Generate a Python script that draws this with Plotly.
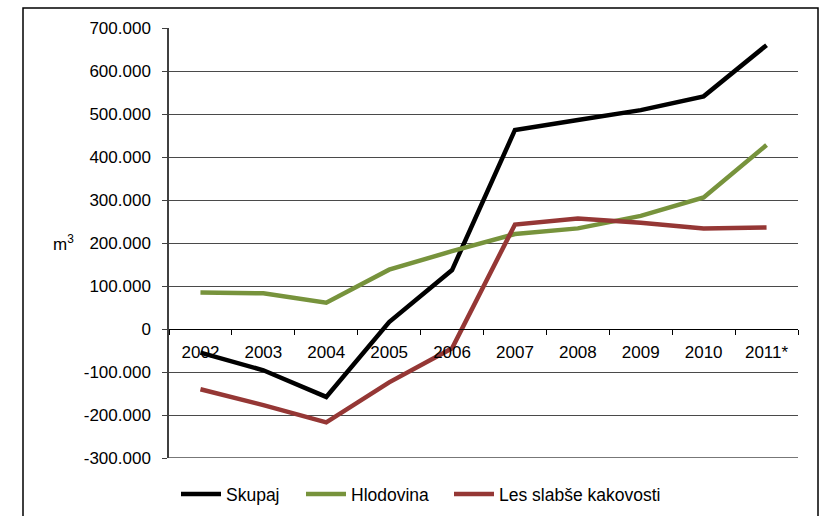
import plotly.graph_objects as go

years = ["2002", "2003", "2004", "2005", "2006", "2007", "2008", "2009", "2010", "2011*"]
skupaj = [-55000, -96000, -158000, 16000, 137000, 463000, 486000, 509000, 541000, 660000]
hlodovina = [85000, 83000, 61000, 138000, 181000, 221000, 234000, 263000, 306000, 428000]
les_slabse = [-140000, -177000, -217000, -124000, -45000, 243000, 257000, 247000, 234000, 236000]

y_tickvals = [700000, 600000, 500000, 400000, 300000, 200000, 100000, 0,
              -100000, -200000, -300000]
y_ticktext = ["700.000", "600.000", "500.000", "400.000", "300.000", "200.000",
              "100.000", "0", "-100.000", "-200.000", "-300.000"]

FONT = "Liberation Sans, Arial, sans-serif"
fs = 17

W, H = 825, 516
ml, mr, mt, mb = 169, 27, 28, 58
pw = W - ml - mr
ph = H - mt - mb
zero_px = 328.8

fig = go.Figure()
fig.add_trace(go.Scatter(x=years, y=skupaj, mode="lines", name="Skupaj",
                         line=dict(color="#000000", width=4.5), legend="legend"))
fig.add_trace(go.Scatter(x=years, y=hlodovina, mode="lines", name="Hlodovina",
                         line=dict(color="#77933C", width=4.5), legend="legend2"))
fig.add_trace(go.Scatter(x=years, y=les_slabse, mode="lines", name="Les slabše kakovosti",
                         line=dict(color="#953735", width=4.5), legend="legend3"))

def leg(xpix):
    return dict(orientation="h", xref="container", yref="container",
                x=xpix / W, xanchor="left", y=1 - 494 / H, yanchor="middle",
                font=dict(family=FONT, size=17.5, color="#000000"),
                itemwidth=40, bgcolor="rgba(0,0,0,0)")

fig.update_layout(
    width=W, height=H,
    margin=dict(l=ml, r=mr, t=mt, b=mb, pad=0, autoexpand=False),
    paper_bgcolor="white", plot_bgcolor="white",
    font=dict(family=FONT, size=fs, color="#000000"),
    showlegend=True,
    legend=leg(184 - 8),
    legend2=leg(309 - 8),
    legend3=leg(457 - 8),
    xaxis=dict(type="category", range=[-0.5, 9.5], anchor="free",
               position=(H - mb - zero_px) / ph,
               showline=True, linecolor="#000000", linewidth=1.3,
               ticks="outside", ticklen=5, tickcolor="#000000", tickwidth=1.3,
               tickson="boundaries", showgrid=False, zeroline=False,
               ticklabelstandoff=8,
               tickfont=dict(family=FONT, size=fs, color="#000000")),
    yaxis=dict(range=[-300000, 700000], tickvals=y_tickvals, ticktext=y_ticktext,
               showline=True, linecolor="#404040", linewidth=1.5,
               ticks="outside", ticklen=5, tickcolor="#404040", tickwidth=1.3,
               showgrid=True, gridcolor="#4a4a4a", gridwidth=1.3,
               zeroline=False, ticklabelstandoff=8,
               tickfont=dict(family=FONT, size=fs, color="#000000")),
)

# bottom gridline (plotly hides the edge gridline)
fig.add_shape(type="line", xref="paper", yref="y", x0=0, x1=1,
              y0=y_tickvals[-1], y1=y_tickvals[-1],
              line=dict(color="#4a4a4a", width=1.3), layer="below")

# outer chart border
fig.add_shape(type="rect", xref="paper", yref="paper",
              x0=(23 - ml) / pw, x1=(818 - ml) / pw,
              y0=(H - mb - 540) / ph, y1=(H - mb - 8) / ph,
              line=dict(color="#000000", width=1.5), fillcolor="rgba(0,0,0,0)",
              layer="below")

# unit label
fig.add_annotation(xref="paper", yref="y", x=(51 - ml) / pw, y=200000,
                   xanchor="left", yanchor="middle", showarrow=False,
                   text="m<sup>3</sup>", font=dict(family=FONT, size=fs, color="#000000"))

fig.write_html("out.html")
